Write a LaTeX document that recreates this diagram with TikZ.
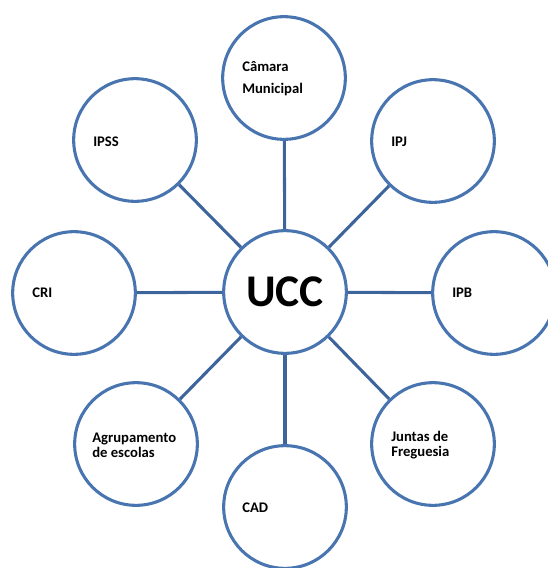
\documentclass[tikz,border=0pt]{standalone}
\usepackage{fontspec}
\setmainfont{Carlito}
\usepackage{tikz}
\usetikzlibrary{positioning,calc}
\definecolor{ringblue}{RGB}{72,116,176}
\definecolor{spokeblue}{RGB}{62,100,156}

\begin{document}
\begin{tikzpicture}[x=0.75pt, y=-0.75pt,
    partner/.style={draw=ringblue, line width=2.3pt, circle, fill=white, minimum size=92pt, inner sep=0pt},
    spoke/.style={draw=spokeblue, line width=2.3pt},
    tag/.style={anchor=west, inner sep=0pt, align=left, font=\bfseries\fontsize{11}{11.3}\selectfont}]
    \useasboundingbox (0,0) rectangle (548,568);

    % Central hub
    \node[partner] (UCC) at (285, 292) {\bfseries\fontsize{34}{36}\selectfont UCC};

    % Partner circles
    \node[partner] (CAMARA) at (284, 78) {};
    \node[partner] (IPSS) at (135, 140) {};
    \node[partner] (IPJ) at (433, 141) {};
    \node[partner] (CRI) at (74, 293) {};
    \node[partner] (IPB) at (494, 293) {};
    \node[partner] (AGRUP) at (136, 444) {};
    \node[partner] (JUNTAS) at (433, 444) {};
    \node[partner] (CAD) at (285, 507) {};

    % Labels
    \node[tag, font=\bfseries\fontsize{11}{16.5}\selectfont] (CAMARA_T) at (242, 79) {Câmara\\Municipal};
    \node[tag] (IPSS_T) at (93, 142) {IPSS};
    \node[tag] (IPJ_T) at (391, 142) {IPJ};
    \node[tag] (CRI_T) at (32, 293) {CRI};
    \node[tag] (IPB_T) at (452, 293) {IPB};
    \node[tag] (AGRUP_T) at (92, 445) {Agrupamento\\de escolas};
    \node[tag] (JUNTAS_T) at (391, 445) {Juntas de\\Freguesia};
    \node[tag] (CAD_T) at (242, 508) {CAD};

    % Spokes
    \draw[spoke] (UCC) -- (CAMARA);
    \draw[spoke] (UCC) -- (IPSS);
    \draw[spoke] (UCC) -- (IPJ);
    \draw[spoke] (UCC) -- (CRI);
    \draw[spoke] (UCC) -- (IPB);
    \draw[spoke] (UCC) -- (AGRUP);
    \draw[spoke] (UCC) -- (JUNTAS);
    \draw[spoke] (UCC) -- (CAD);
\end{tikzpicture}
\end{document}
